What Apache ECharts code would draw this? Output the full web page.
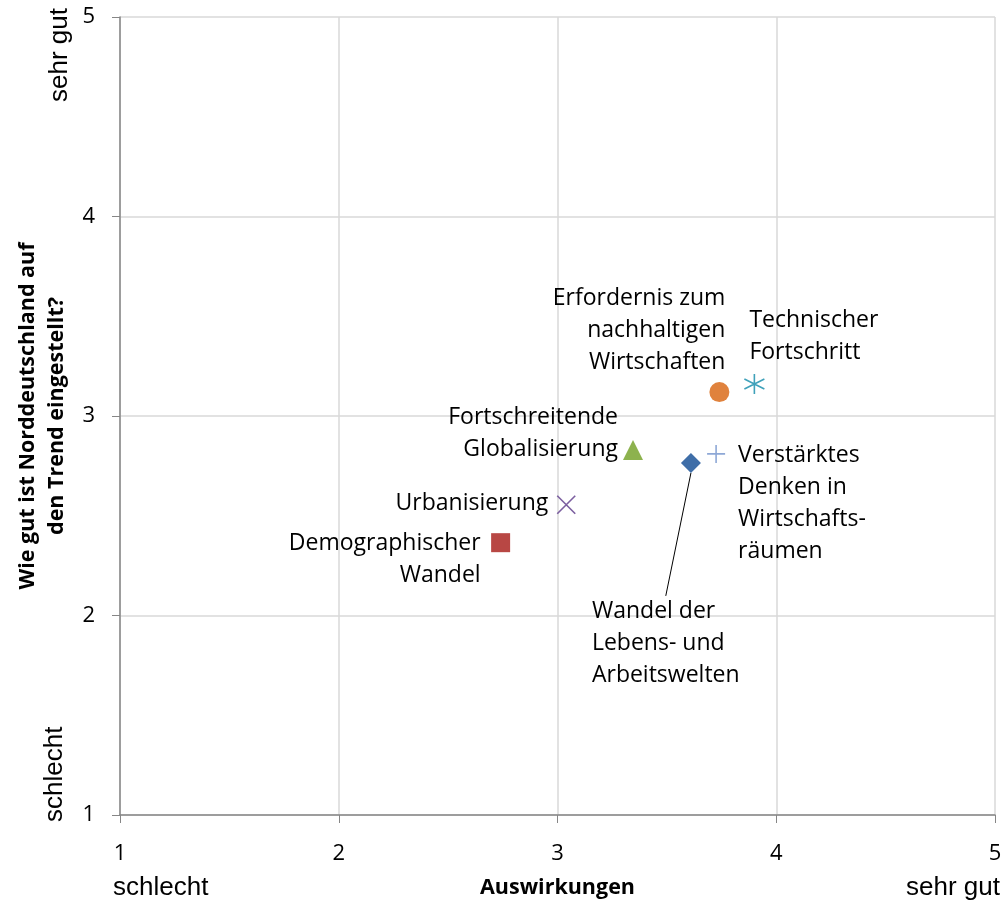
<!DOCTYPE html>
<html>
<head>
<meta charset="utf-8">
<script src="https://cdn.jsdelivr.net/npm/echarts@6/dist/echarts.min.js"></script>
<style>
  html, body { margin: 0; padding: 0; background: #fff; }
  #chart { width: 1003px; height: 902px; }
</style>
</head>
<body>
<div id="chart"></div>
<script>
// Daten: x = Auswirkungen, y = Wie gut ist Norddeutschland eingestellt
var trendNames = [
    'Wandel der\nLebens- und\nArbeitswelten',
    'Demographischer\nWandel',
    'Fortschreitende\nGlobalisierung',
    'Urbanisierung',
    'Technischer\nFortschritt',
    'Erfordernis zum\nnachhaltigen\nWirtschaften',
    'Verstärktes\nDenken in\nWirtschafts-\nräumen'
];
var xValues = [3.61, 2.74, 3.345, 3.04, 3.90, 3.74, 3.725];
var yValues = [2.765, 2.365, 2.83, 2.555, 3.16, 3.12, 2.81];
var axisTicks = [1, 2, 3, 4, 5];

var font = '"Open Sans", sans-serif';
var arial = '"Liberation Sans", Arial, sans-serif';

// Darstellung je Trend (Symbol, Farbe, Beschriftung)
var styles = [
    {symbol: 'diamond', size: 20, color: '#3F6EA8', fill: true,
        label: {position: 'inside', align: 'left', verticalAlign: 'top'},
        layout: {dx: -99, dy: 133}, line: true},
    {symbol: 'rect', size: 19, color: '#B84744', fill: true,
        label: {position: 'inside', align: 'right', verticalAlign: 'top', offset: [-20, -15]}},
    {symbol: 'triangle', size: 20, color: '#8DB24E', fill: true,
        label: {position: 'inside', align: 'right', verticalAlign: 'bottom', offset: [-15, 16]}},
    {symbol: 'path://M0,0L10,10M10,0L0,10', size: 18, color: '#7C5FA0', fill: false,
        label: {position: 'inside', align: 'right', verticalAlign: 'middle', offset: [-18, -1]}},
    {symbol: 'path://M5,0L5,10M0,2.5L10,7.5M0,7.5L10,2.5', size: 20, color: '#3FA1BA', fill: false,
        label: {position: 'inside', align: 'left', verticalAlign: 'bottom', offset: [-5, -16]}},
    {symbol: 'circle', size: 20, color: '#E0823D', fill: true,
        label: {position: 'inside', align: 'right', verticalAlign: 'bottom', offset: [6, -14]}},
    {symbol: 'path://M5,0L5,10M0,5L10,5', size: 18, color: '#8EA8D6', fill: false,
        label: {position: 'inside', align: 'left', verticalAlign: 'top', offset: [22, -14]}}
];

var chart = echarts.init(document.getElementById('chart'));

var series = [];
for (var i = 0; i < trendNames.length; i++) {
    var s = styles[i];
    var item = {
        name: trendNames[i],
        type: 'scatter',
        symbol: s.symbol,
        symbolSize: s.size,
        data: [[xValues[i], yValues[i]]],
        itemStyle: s.fill
            ? {color: s.color, opacity: 1}
            : {color: 'rgba(0,0,0,0)', borderColor: s.color, borderWidth: 1.6, opacity: 1},
        label: Object.assign({
            show: true,
            formatter: trendNames[i],
            color: '#000',
            fontFamily: font,
            fontSize: 23,
            lineHeight: 32
        }, s.label),
        emphasis: {disabled: true},
        z: 3
    };
    if (s.layout) {
        item.labelLayout = s.layout;
    }
    if (s.line) {
        item.labelLine = {show: true, lineStyle: {color: '#000', width: 1}};
    }
    series.push(item);
}

var option = {
    animation: false,
    grid: {left: 120, right: 8, top: 17, bottom: 87, containLabel: false, outerBoundsMode: 'none'},
    xAxis: {
        type: 'value',
        min: axisTicks[0],
        max: axisTicks[axisTicks.length - 1],
        interval: 1,
        name: 'Auswirkungen',
        nameLocation: 'middle',
        nameGap: 62,
        nameMoveOverlap: false,
        nameTextStyle: {fontFamily: font, fontSize: 21.5, fontWeight: 'bold', color: '#000'},
        axisLine: {show: true, lineStyle: {color: '#868686', width: 1.5}},
        axisTick: {show: true, length: 8, lineStyle: {color: '#868686'}},
        axisLabel: {fontFamily: font, fontSize: 22, color: '#000', margin: 28},
        splitLine: {show: true, lineStyle: {color: '#D9D9D9', width: 1.5}}
    },
    yAxis: {
        type: 'value',
        min: axisTicks[0],
        max: axisTicks[axisTicks.length - 1],
        interval: 1,
        name: 'Wie gut ist Norddeutschland auf\nden Trend eingestellt?',
        nameLocation: 'middle',
        nameGap: 37,
        nameRotate: 90,
        nameTextStyle: {fontFamily: font, fontSize: 21.5, fontWeight: 'bold', color: '#000', lineHeight: 29},
        axisLine: {show: true, lineStyle: {color: '#868686', width: 1.5}},
        axisTick: {show: true, length: 8, lineStyle: {color: '#868686'}},
        axisLabel: {fontFamily: font, fontSize: 22, color: '#000', margin: 25},
        splitLine: {show: true, lineStyle: {color: '#D9D9D9', width: 1.5}}
    },
    graphic: [
        {type: 'text', left: 113, top: 875,
            style: {text: 'schlecht', font: '26px ' + arial, fill: '#000'}},
        {type: 'text', right: 3, top: 875,
            style: {text: 'sehr gut', font: '26px ' + arial, fill: '#000'}},
        {type: 'text', x: 47, y: 102, rotation: Math.PI / 2,
            style: {text: 'sehr gut', font: '26px ' + arial, fill: '#000'}},
        {type: 'text', x: 42, y: 822, rotation: Math.PI / 2,
            style: {text: 'schlecht', font: '26px ' + arial, fill: '#000'}}
    ],
    series: series
};

chart.setOption(option);
</script>
</body>
</html>
